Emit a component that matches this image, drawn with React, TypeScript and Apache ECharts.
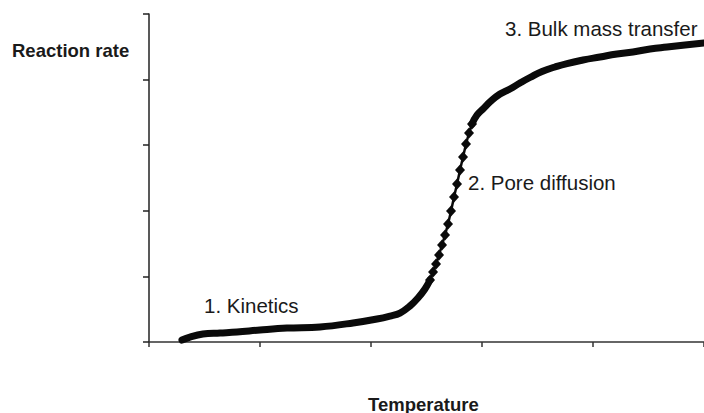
import React, { useEffect, useRef } from "react";
import * as echarts from "echarts";

// Temperature (x, arbitrary units 0..5) / Reaction rate (y, arbitrary units 0..5)
const lowX = [0.297, 0.369, 0.486, 0.64, 0.793, 1.0, 1.243, 1.541, 1.838, 2.054, 2.171, 2.261, 2.351, 2.423, 2.486, 2.532];
const lowY = [0.03, 0.076, 0.122, 0.137, 0.152, 0.183, 0.213, 0.229, 0.29, 0.351, 0.396, 0.442, 0.549, 0.671, 0.808, 0.945];

const steepX = [2.532, 2.559, 2.586, 2.613, 2.64, 2.667, 2.694, 2.721, 2.748, 2.775, 2.802, 2.829, 2.856, 2.883, 2.91];
const steepY = [0.945, 1.067, 1.189, 1.326, 1.479, 1.631, 1.799, 1.997, 2.21, 2.409, 2.622, 2.82, 3.018, 3.186, 3.323];

const highX = [2.91, 2.955, 3.009, 3.072, 3.162, 3.252, 3.342, 3.432, 3.541, 3.658, 3.766, 3.91, 4.063, 4.216, 4.36, 4.514, 4.667, 4.829, 5.0];
const highY = [3.323, 3.46, 3.552, 3.659, 3.78, 3.857, 3.948, 4.032, 4.123, 4.192, 4.245, 4.299, 4.345, 4.39, 4.421, 4.466, 4.497, 4.527, 4.558];

const regimeLabels = ["1. Kinetics", "2. Pore diffusion", "3. Bulk mass transfer"];
const yTitle = "Reaction rate";
const xTitle = "Temperature";

const zip = (xs: number[], ys: number[]) => xs.map((x, i) => [x, ys[i]]);

export default function App() {
  const ref = useRef<HTMLDivElement>(null);
  useEffect(() => {
    if (!ref.current) return;
    const chart = echarts.init(ref.current, null, { renderer: "svg" });
    const font = "'Liberation Sans', Arial, sans-serif";
    const txt = (text: string, x: number, y: number, bold: boolean, size: number) => ({
      type: "text",
      x,
      y,
      style: {
        text,
        font: `${bold ? "bold " : ""}${size}px ${font}`,
        fill: "#1a1a1a",
        textAlign: "left",
        textVerticalAlign: "middle",
        align: "left",
        verticalAlign: "middle",
      },
    });
    chart.setOption({
      animation: false,
      backgroundColor: "#ffffff",
      grid: { left: 149, right: 0, top: 14, bottom: 71, containLabel: false },
      xAxis: {
        type: "value",
        min: 0,
        max: 5,
        interval: 1,
        axisLine: { show: true, lineStyle: { color: "#333", width: 1.5 } },
        axisTick: { show: true, inside: false, length: 5, lineStyle: { color: "#333", width: 1.5 } },
        axisLabel: { show: false },
        splitLine: { show: false },
      },
      yAxis: {
        type: "value",
        min: 0,
        max: 5,
        interval: 1,
        axisLine: { show: true, lineStyle: { color: "#222", width: 1.5 } },
        axisTick: { show: true, inside: false, length: 6, lineStyle: { color: "#222", width: 1.5 } },
        axisLabel: { show: false },
        splitLine: { show: false },
      },
      series: [
        {
          type: "line",
          data: zip(lowX, lowY),
          showSymbol: false,
          symbol: "none",
          smooth: 0.4,
          lineStyle: { color: "#0a0a0a", width: 7, cap: "round", join: "round" },
        },
        {
          type: "line",
          data: zip(steepX, steepY),
          symbol: "diamond",
          symbolSize: [10, 11],
          itemStyle: { color: "#0a0a0a" },
          lineStyle: { color: "#0a0a0a", width: 2.5 },
        },
        {
          type: "line",
          data: zip(highX, highY),
          showSymbol: false,
          symbol: "none",
          smooth: 0.5,
          lineStyle: { color: "#0a0a0a", width: 7, cap: "round", join: "round" },
        },
      ],
      graphic: [
        txt(yTitle, 12, 50, true, 18.5),
        txt(xTitle, 368, 404, true, 18.5),
        txt(regimeLabels[0], 204, 305, false, 20.5),
        txt(regimeLabels[1], 468, 182, false, 20.5),
        txt(regimeLabels[2], 505, 28, false, 20.5),
      ],
    });
    return () => chart.dispose();
  }, []);
  return (
    <div
      ref={ref}
      style={{ position: "fixed", left: 0, top: 0, width: 704, height: 413, background: "#fff" }}
    />
  );
}
